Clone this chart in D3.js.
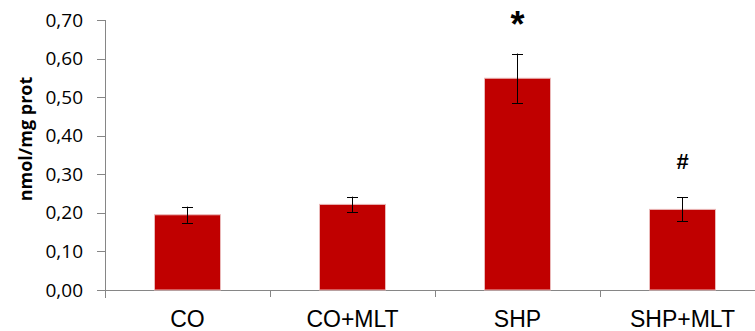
<!DOCTYPE html>
<html>
<head>
<meta charset="utf-8">
<script src="https://cdn.jsdelivr.net/npm/d3@7"></script>
<style>
  body { margin: 0; background: #fff; }
  .yTick text { font-family: "Open Sans", sans-serif; font-size: 19px; fill: #000; }
  .xLabel { font-family: "Liberation Sans", Arial, sans-serif; font-size: 23px; fill: #000; }
  .yTitle { font-family: "Open Sans", sans-serif; font-size: 18px; font-weight: bold; fill: #000; }
</style>
</head>
<body>
<div id="chart"></div>
<script>
// data
const categories = ['CO', 'CO+MLT', 'SHP', 'SHP+MLT'];
const means = [0.195, 0.222, 0.549, 0.209];
const errors = [0.021, 0.020, 0.064, 0.031];
const signs = ['', '', '*', '#'];
const yTicks = [0, 0.1, 0.2, 0.3, 0.4, 0.5, 0.6, 0.7];

function initChart(selector) {
    return d3.select(selector)
        .append('svg')
        .attr('width', 755)
        .attr('height', 331);
}

let svg = initChart('#chart');

let plotLeft = 105, plotRight = 765, plotTop = 20, plotBottom = 290;

let x = d3.scaleBand()
    .domain(categories)
    .range([plotLeft, plotRight])
    .padding(0);

let y = d3.scaleLinear()
    .domain([0, 0.7])
    .range([plotBottom, plotTop]);

let axisColor = '#868686',
    barWidth = x.bandwidth() * 0.4,
    capWidth = 11;

// y axis
let yAxis = svg.append('g').attr('class', 'yTick');
yAxis.append('line')
    .attr('x1', plotLeft + 0.5).attr('x2', plotLeft + 0.5)
    .attr('y1', y(0.7)).attr('y2', plotBottom + 8)
    .attr('stroke', axisColor);
yAxis.selectAll('ticks')
    .data(yTicks)
    .enter().append('line')
    .attr('x1', plotLeft - 8).attr('x2', plotLeft)
    .attr('y1', d => Math.round(y(d)) + 0.5)
    .attr('y2', d => Math.round(y(d)) + 0.5)
    .attr('stroke', axisColor);
yAxis.selectAll('labels')
    .data(yTicks)
    .enter().append('text')
    .attr('x', 83)
    .attr('y', d => y(d) + 6.5)
    .attr('text-anchor', 'end')
    .text(d => d3.format('.2f')(d).replace('.', ','));

svg.append('text')
    .attr('class', 'yTitle')
    .attr('transform', 'translate(32,139) rotate(-90)')
    .attr('text-anchor', 'middle')
    .text('nmol/mg prot');

// x axis
svg.append('line')
    .attr('x1', plotLeft).attr('x2', plotRight)
    .attr('y1', plotBottom + 0.5).attr('y2', plotBottom + 0.5)
    .attr('stroke', axisColor);
svg.append('g')
    .selectAll('ticks')
    .data(categories)
    .enter().append('line')
    .attr('x1', d => Math.round(x(d) + x.step()) + 0.5)
    .attr('x2', d => Math.round(x(d) + x.step()) + 0.5)
    .attr('y1', plotBottom).attr('y2', plotBottom + 7)
    .attr('stroke', axisColor);

svg.append('g')
    .selectAll('labels')
    .data(categories)
    .enter().append('text')
    .attr('class', 'xLabel')
    .attr('x', d => x(d) + x.bandwidth() / 2)
    .attr('y', 327)
    .attr('text-anchor', 'middle')
    .text(d => d);

// bars
svg.append('g')
    .selectAll('bars')
    .data(means)
    .enter().append('rect')
    .attr('x', (d, i) => x(categories[i]) + (x.bandwidth() - barWidth) / 2)
    .attr('y', d => y(d))
    .attr('width', barWidth)
    .attr('height', d => y(0) - y(d))
    .attr('fill', '#c00000')
    .attr('stroke', '#eab9b9')
    .attr('stroke-width', 1);

// error bars
let errs = svg.append('g')
    .selectAll('errs')
    .data(means)
    .enter().append('g')
    .attr('stroke', '#000')
    .attr('stroke-width', 1);
errs.append('line')
    .attr('x1', (d, i) => x(categories[i]) + x.bandwidth() / 2)
    .attr('x2', (d, i) => x(categories[i]) + x.bandwidth() / 2)
    .attr('y1', (d, i) => y(d + errors[i]))
    .attr('y2', (d, i) => y(d - errors[i]));
errs.append('line')
    .attr('x1', (d, i) => x(categories[i]) + x.bandwidth() / 2 - capWidth / 2)
    .attr('x2', (d, i) => x(categories[i]) + x.bandwidth() / 2 + capWidth / 2)
    .attr('y1', (d, i) => Math.round(y(d + errors[i])) + 0.5)
    .attr('y2', (d, i) => Math.round(y(d + errors[i])) + 0.5);
errs.append('line')
    .attr('x1', (d, i) => x(categories[i]) + x.bandwidth() / 2 - capWidth / 2)
    .attr('x2', (d, i) => x(categories[i]) + x.bandwidth() / 2 + capWidth / 2)
    .attr('y1', (d, i) => Math.round(y(d - errors[i])) + 0.5)
    .attr('y2', (d, i) => Math.round(y(d - errors[i])) + 0.5);

// significance marks
svg.append('g')
    .selectAll('signs')
    .data(signs)
    .enter().append('text')
    .attr('x', (d, i) => x(categories[i]) + x.bandwidth() / 2)
    .attr('y', (d, i) => y(means[i] + errors[i]) - (d === '*' ? 17 : 28))
    .attr('text-anchor', 'middle')
    .attr('font-family', 'Liberation Sans, Arial, sans-serif')
    .attr('font-size', d => d === '*' ? '36px' : '22px')
    .attr('font-weight', 'bold')
    .text(d => d);
</script>
</body>
</html>
